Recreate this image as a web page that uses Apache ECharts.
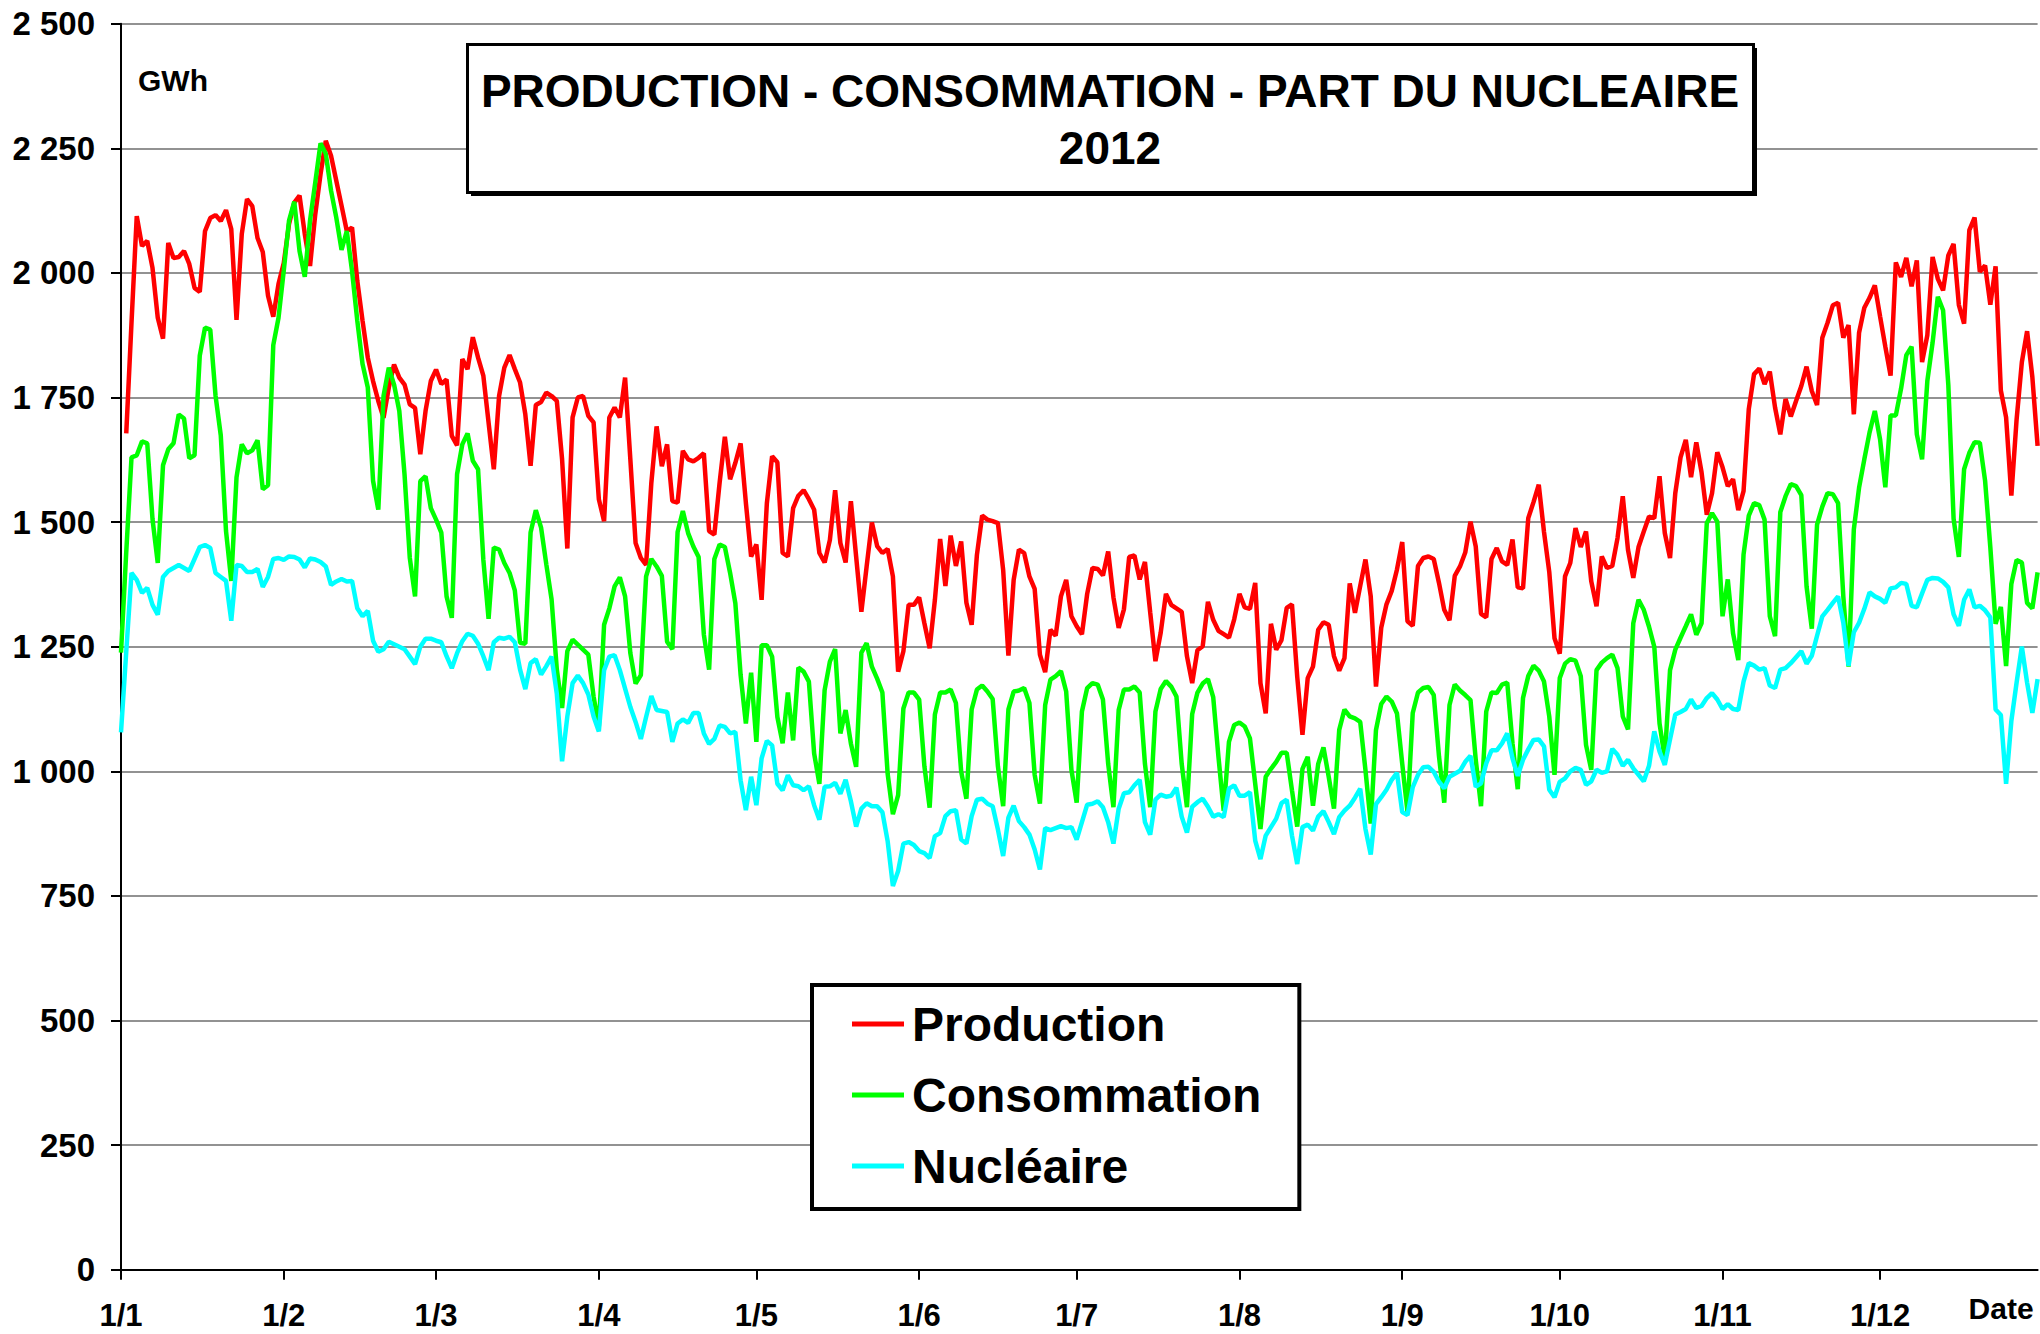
<!DOCTYPE html>
<html>
<head>
<meta charset="utf-8">
<title>Production - Consommation - Part du nucléaire 2012</title>
<script src="https://cdn.jsdelivr.net/npm/echarts@6/dist/echarts.min.js"></script>
<style>
  html, body { margin: 0; padding: 0; background: #fff; }
  #main { width: 2040px; height: 1334px; }
</style>
</head>
<body>
<div id="main"></div>
<script>
// 2012 est bissextile
var monthDays = [31, 29, 31, 30, 31, 30, 31, 31, 30, 31, 30, 31];
var yMin = 0, yMax = 2500, yStep = 250;

// GWh par jour, un mois par ligne
var production = [
  null,1678,1900,2114,2054,2064,2010,1910,1868,2060,2030,2032,2044,2018,1970,1962,2084,2110,2116,2104,2126,2088,1906,2078,2148,2134,2070,2042,1954,1912,1978,
  2020,2098,2141,2155,2078,2014,2118,2198,2265,2235,2185,2135,2084,2091,1984,1904,1830,1783,1743,1709,1770,1816,1790,1776,1736,1729,1636,1723,1783,
  1806,1777,1786,1673,1654,1827,1807,1871,1830,1794,1700,1606,1753,1810,1835,1807,1780,1716,1613,1735,1741,1760,1753,1743,1626,1447,1710,1750,1753,1713,1700,
  1546,1502,1710,1730,1710,1790,1626,1458,1428,1414,1579,1692,1612,1656,1542,1539,1643,1626,1622,1629,1638,1482,1475,1579,1671,1586,1619,1658,1539,1431,
  1455,1344,1538,1632,1620,1438,1431,1528,1553,1564,1546,1525,1438,1419,1464,1564,1458,1419,1542,1431,1320,1411,1499,1452,1438,1446,1391,1200,1241,1334,1334,
  1349,1297,1247,1344,1466,1372,1473,1412,1461,1338,1294,1434,1513,1505,1502,1498,1404,1232,1384,1445,1438,1391,1366,1234,1199,1284,1272,1351,1384,1311,
  1291,1275,1356,1408,1406,1393,1441,1349,1288,1325,1430,1433,1385,1420,1319,1221,1278,1356,1334,1327,1320,1231,1177,1243,1251,1340,1304,1282,1275,1268,1305,
  1356,1329,1326,1378,1177,1116,1296,1244,1263,1328,1335,1190,1073,1187,1210,1284,1299,1294,1231,1202,1227,1377,1318,1372,1425,1351,1170,1288,1335,1362,1405,
  1460,1301,1292,1412,1428,1431,1426,1378,1324,1303,1392,1411,1439,1501,1451,1316,1309,1426,1448,1421,1414,1465,1369,1367,1508,1540,1575,1480,1400,1267,
  1236,1391,1418,1488,1450,1481,1381,1331,1431,1408,1412,1468,1552,1444,1388,1450,1481,1511,1508,1592,1478,1428,1558,1630,1665,1590,1660,1600,1515,1558,1640,
  1610,1572,1586,1524,1562,1727,1797,1808,1777,1802,1730,1676,1747,1712,1743,1773,1812,1763,1735,1870,1900,1935,1940,1870,1895,1716,1880,1930,1950,1975,
  1913,1852,1794,2021,1992,2030,1973,2025,1821,1875,2032,1988,1965,2035,2058,1936,1898,2086,2111,2002,2015,1936,2013,1764,1710,1553,1706,1821,1883,1791,1653
];

var consommation = [
  1238,1440,1630,1634,1662,1658,1506,1418,1614,1646,1658,1716,1708,1628,1634,1834,1890,1886,1754,1674,1482,1382,1590,1656,1638,1644,1664,1566,1574,1855,1910,
  2005,2105,2143,2044,1992,2105,2182,2260,2239,2165,2111,2046,2084,2004,1904,1817,1770,1583,1525,1753,1810,1776,1723,1595,1428,1351,1582,1592,1528,
  1505,1479,1351,1308,1596,1656,1678,1623,1606,1425,1306,1449,1445,1418,1398,1363,1258,1256,1479,1524,1489,1415,1345,1204,1127,1241,1264,1254,1244,1234,1150,
  1090,1294,1327,1371,1389,1351,1237,1176,1193,1391,1426,1411,1392,1260,1245,1480,1522,1478,1451,1430,1274,1204,1426,1455,1450,1398,1337,1193,1096,1198,
  1059,1253,1253,1230,1109,1056,1158,1062,1208,1200,1180,1036,975,1163,1220,1245,1076,1123,1056,1009,1238,1257,1210,1186,1158,995,914,952,1126,1158,1158,
  1144,1010,927,1114,1158,1158,1164,1137,1000,945,1124,1164,1172,1160,1145,1010,930,1124,1160,1162,1167,1137,993,935,1133,1184,1191,1201,1160,1003,
  937,1120,1167,1177,1174,1144,1015,928,1123,1164,1164,1170,1158,1015,928,1120,1165,1181,1170,1150,1015,928,1115,1158,1176,1185,1149,1029,921,1059,1093,
  1098,1090,1066,975,884,989,1005,1019,1037,1037,962,889,1005,1029,931,1015,1048,989,925,1083,1124,1110,1106,1099,1002,895,1083,1135,1150,1140,1116,
  1015,919,1117,1158,1167,1169,1153,1030,937,1133,1174,1162,1153,1143,1023,930,1120,1158,1157,1174,1178,1056,964,1147,1191,1212,1202,1180,1110,993,
  1187,1216,1225,1222,1191,1053,1003,1203,1218,1227,1234,1207,1110,1084,1297,1344,1324,1290,1250,1096,1026,1203,1244,1268,1291,1315,1274,1297,1498,1518,1501,
  1311,1385,1277,1223,1435,1513,1538,1534,1505,1311,1271,1520,1552,1576,1572,1554,1371,1286,1495,1531,1558,1556,1538,1351,1210,1485,1569,1626,1680,1723,
  1666,1570,1714,1714,1768,1835,1852,1676,1626,1783,1860,1952,1925,1775,1507,1430,1606,1639,1660,1659,1583,1449,1296,1330,1211,1376,1424,1419,1338,1327,1399
];

var nucleaire = [
  1078,1240,1398,1384,1358,1368,1334,1314,1390,1402,1408,1414,1408,1402,1426,1450,1454,1448,1398,1390,1382,1302,1414,1412,1400,1400,1406,1370,1390,1426,1428,
  1424,1431,1430,1425,1409,1427,1425,1420,1411,1374,1381,1386,1381,1382,1327,1311,1322,1262,1240,1245,1260,1255,1250,1245,1230,1215,1250,1266,1266,
  1262,1259,1231,1207,1237,1261,1276,1272,1256,1231,1203,1259,1268,1266,1270,1259,1204,1165,1217,1225,1194,1211,1230,1155,1020,1110,1177,1192,1177,1154,1110,
  1080,1203,1230,1233,1203,1166,1129,1099,1065,1109,1151,1123,1121,1119,1059,1096,1104,1097,1117,1117,1076,1055,1065,1092,1089,1076,1079,982,922,989,
  932,1026,1061,1052,975,962,992,972,970,962,970,932,903,969,970,977,955,983,940,889,925,936,930,930,918,860,770,800,855,858,852,
  840,836,826,870,876,910,920,922,863,855,910,943,945,935,930,883,830,907,931,900,888,873,843,803,886,882,886,890,886,888,
  863,898,933,935,940,928,898,855,925,956,958,972,983,898,873,943,953,949,951,967,909,877,929,938,945,929,909,914,908,965,972,
  951,951,958,861,824,871,888,905,936,943,871,814,888,893,881,909,920,898,874,908,921,931,947,965,884,833,934,948,963,983,997,
  918,912,968,993,1008,1009,999,979,966,989,995,1001,1019,1031,969,976,1016,1042,1042,1056,1076,1026,991,1023,1044,1063,1064,1050,963,948,
  979,986,1000,1007,1003,973,980,1003,997,1000,1045,1033,1011,1023,1006,993,980,1011,1080,1040,1013,1064,1114,1119,1125,1144,1127,1131,1147,1157,1144,
  1125,1135,1125,1123,1180,1217,1212,1204,1207,1172,1167,1204,1207,1217,1229,1241,1216,1232,1272,1311,1324,1338,1351,1298,1212,1279,1298,1326,1359,1351,
  1346,1338,1367,1369,1378,1376,1332,1329,1357,1384,1388,1387,1380,1369,1315,1292,1344,1365,1329,1332,1323,1309,1124,1113,975,1101,1178,1250,1178,1117,1185
];

// une catégorie par jour : "j/m"
var days = [];
monthDays.forEach(function (n, m) {
  for (var d = 1; d <= n; d++) days.push(d + '/' + (m + 1));
});

var FONT = '"Liberation Sans", Arial, Helvetica, sans-serif';

function firstOfMonth(index, value) {
  return value.indexOf('1/') === 0;
}

var myChart = echarts.init(document.getElementById('main'), null, { renderer: 'svg' });

var options = {
  animation: false,
  backgroundColor: '#fff',
  textStyle: { fontFamily: FONT },
  title: {
    text: 'PRODUCTION - CONSOMMATION - PART DU NUCLEAIRE\n2012',
    left: 1110,
    top: 62,
    padding: 0,
    textAlign: 'center',
    textStyle: { fontFamily: FONT, fontSize: 46, fontWeight: 'bold', color: '#000', lineHeight: 57 }
  },
  legend: {
    orient: 'vertical',
    left: 812,
    top: 985,
    padding: [15, 38, 19, 40],
    icon: 'rect',
    itemWidth: 52,
    itemHeight: 5,
    itemGap: 23,
    borderColor: '#000',
    borderWidth: 4,
    backgroundColor: '#fff',
    textStyle: { fontFamily: FONT, fontSize: 48, fontWeight: 'bold', color: '#000', padding: [0, 0, 0, 3] },
    data: ['Production', 'Consommation', 'Nucléaire']
  },
  grid: { left: 121, right: 2.4, top: 23.7, bottom: 64.3, containLabel: false },
  xAxis: {
    type: 'category',
    data: days,
    boundaryGap: false,
    name: 'Date',
    nameLocation: 'end',
    nameGap: -4,
    nameTextStyle: { fontFamily: FONT, fontSize: 30, fontWeight: 'bold', color: '#000', align: 'right', verticalAlign: 'top', padding: [24, 0, 0, 0] },
    axisLine: { lineStyle: { color: '#000', width: 2 } },
    axisTick: { interval: firstOfMonth, length: 10, lineStyle: { color: '#000', width: 2 } },
    axisLabel: { interval: firstOfMonth, margin: 30, fontFamily: FONT, fontSize: 31, fontWeight: 'bold', color: '#000' },
    splitLine: { show: false }
  },
  yAxis: {
    type: 'value',
    min: yMin,
    max: yMax,
    interval: yStep,
    axisLine: { show: true, lineStyle: { color: '#000', width: 2 } },
    axisTick: { show: true, length: 10, lineStyle: { color: '#000', width: 2 } },
    axisLabel: {
      margin: 26, fontFamily: FONT, fontSize: 33, fontWeight: 'bold', color: '#000',
      formatter: function (v) {
        return v >= 1000 ? Math.floor(v / 1000) + ' ' + String(v % 1000).padStart(3, '0') : String(v);
      }
    },
    splitLine: { lineStyle: { color: '#6e6e6e', width: 1.5 } }
  },
  graphic: [
    // cadre du titre avec ombre portée
    { type: 'rect', left: 471, top: 48, z: 1, shape: { width: 1286, height: 148 }, style: { fill: '#000' } },
    { type: 'rect', left: 466, top: 43, z: 2, shape: { width: 1286, height: 148 }, style: { fill: '#fff', stroke: '#000', lineWidth: 3 } },
    { type: 'text', left: 138, top: 65, z: 5, style: { text: 'GWh', font: 'bold 30px ' + FONT, fill: '#000' } }
  ],
  series: [
    { name: 'Production', type: 'line', data: production, symbol: 'none', color: '#ff0000', lineStyle: { width: 4.5 } },
    { name: 'Consommation', type: 'line', data: consommation, symbol: 'none', color: '#00ff00', lineStyle: { width: 4.5 } },
    { name: 'Nucléaire', type: 'line', data: nucleaire, symbol: 'none', color: '#00ffff', lineStyle: { width: 4.5 } }
  ]
};

myChart.setOption(options, true);
window.onresize = function () {
  myChart.resize();
};
</script>
</body>
</html>
